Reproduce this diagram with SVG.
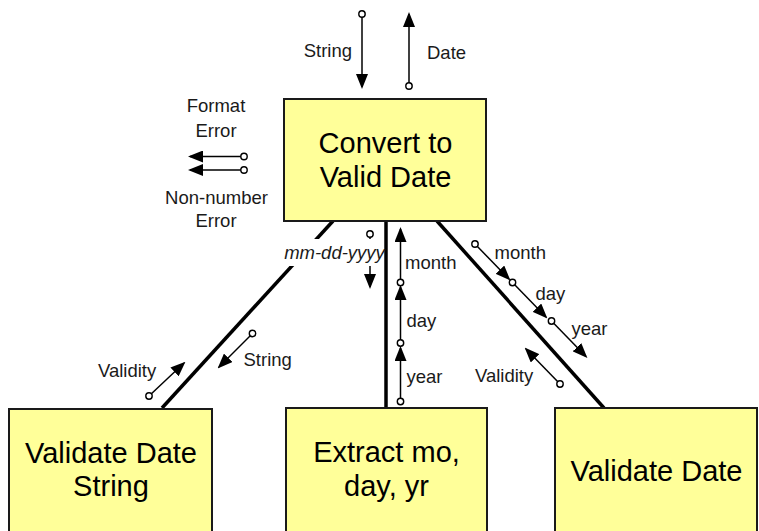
<svg xmlns="http://www.w3.org/2000/svg" width="759" height="531" viewBox="0 0 759 531">
  <defs>
    <marker id="head" viewBox="0 0 15 12" markerUnits="userSpaceOnUse" markerWidth="15" markerHeight="12" refX="13" refY="6" orient="auto">
      <path d="M0,0 L15,6 L0,12 z" fill="#000"/>
    </marker>
  </defs>
  <style>
    .box { fill: #FFFF99; stroke: #1a1a1a; stroke-width: 2; }
    .big { font-family: "Liberation Sans", Arial, sans-serif; font-size: 29px; fill: #000; text-anchor: middle; }
    .lbl { font-family: "Liberation Sans", Arial, sans-serif; font-size: 18.5px; fill: #1a1a1a; }
    .mid { text-anchor: middle; }
    .end { text-anchor: end; }
    .ital { font-style: italic; }
    .link { stroke: #000; stroke-width: 3.5; fill: none; }
    .flow { stroke: #000; stroke-width: 1.5; fill: none; marker-end: url(#head); }
    .tail { fill: #fff; stroke: #000; stroke-width: 1.4; }
  </style>
  <rect width="759" height="531" fill="#fff"/>

  <!-- thick connectors between modules -->
  <g id="connectors">
    <line class="link" x1="333" y1="221" x2="162" y2="408"/>
    <line class="link" x1="386" y1="221" x2="386" y2="408"/>
    <line class="link" x1="437" y1="221" x2="604" y2="408"/>
  </g>

  <!-- data flow couples -->
  <g id="couples">
    <!-- top: String in, Date out -->
    <line class="flow" x1="362" y1="14" x2="362" y2="87"/>
    <circle class="tail" cx="362" cy="14" r="3.2"/>
    <line class="flow" x1="409" y1="86" x2="409" y2="14"/>
    <circle class="tail" cx="409" cy="86" r="3.2"/>
    <text class="lbl end" x="352" y="57">String</text>
    <text class="lbl" x="427" y="59">Date</text>

    <!-- error flags -->
    <line class="flow" x1="244" y1="156.5" x2="190" y2="156.5"/>
    <circle class="tail" cx="244" cy="156.5" r="3.2"/>
    <line class="flow" x1="244" y1="170" x2="190" y2="170"/>
    <circle class="tail" cx="244" cy="170" r="3.2"/>
    <text class="lbl mid" x="216" y="112">Format</text>
    <text class="lbl mid" x="216" y="137">Error</text>
    <text class="lbl mid" x="216.5" y="203.5">Non-number</text>
    <text class="lbl mid" x="216" y="227">Error</text>

    <!-- mm-dd-yyyy down the middle -->
    <line class="flow" x1="370" y1="234" x2="370" y2="287"/>
    <circle class="tail" cx="370" cy="234" r="3.2"/>
    <rect x="284" y="239" width="100" height="27" fill="#fff"/>
    <text class="lbl ital" x="334.5" y="259" text-anchor="middle">mm-dd-yyyy</text>

    <!-- year, day, month up the middle -->
    <line class="flow" x1="400.5" y1="401.5" x2="400.5" y2="348"/>
    <circle class="tail" cx="400.5" cy="401.5" r="3.2"/>
    <line class="flow" x1="400.5" y1="343" x2="400.5" y2="287"/>
    <circle class="tail" cx="400.5" cy="343" r="3.2"/>
    <line class="flow" x1="400.5" y1="282.5" x2="400.5" y2="229"/>
    <circle class="tail" cx="400.5" cy="282.5" r="3.2"/>
    <text class="lbl" x="405" y="269">month</text>
    <text class="lbl" x="406.5" y="327">day</text>
    <text class="lbl" x="406.5" y="383">year</text>

    <!-- month, day, year down the right -->
    <line class="flow" x1="475" y1="244" x2="509" y2="279"/>
    <circle class="tail" cx="475" cy="244" r="3.2"/>
    <line class="flow" x1="512.5" y1="282.5" x2="546" y2="317"/>
    <circle class="tail" cx="512.5" cy="282.5" r="3.2"/>
    <line class="flow" x1="551.5" y1="321" x2="586" y2="356.5"/>
    <circle class="tail" cx="551.5" cy="321" r="3.2"/>
    <text class="lbl" x="494.5" y="259">month</text>
    <text class="lbl" x="535.5" y="300">day</text>
    <text class="lbl" x="571.5" y="335">year</text>

    <!-- validity back up the right -->
    <line class="flow" x1="560" y1="384" x2="526" y2="349"/>
    <circle class="tail" cx="560" cy="384" r="3.2"/>
    <text class="lbl" x="475" y="382">Validity</text>

    <!-- string down, validity up the left -->
    <line class="flow" x1="252.5" y1="333.5" x2="219" y2="367"/>
    <circle class="tail" cx="252.5" cy="333.5" r="3.2"/>
    <line class="flow" x1="149" y1="396" x2="184" y2="363"/>
    <circle class="tail" cx="149" cy="396" r="3.2"/>
    <text class="lbl" x="243.5" y="365.5">String</text>
    <text class="lbl" x="98" y="377">Validity</text>
  </g>

  <!-- modules -->
  <g id="convert">
    <rect class="box" x="284" y="99" width="202" height="122"/>
    <text class="big" x="385.5" y="152.5">Convert to</text>
    <text class="big" x="385.5" y="186.5">Valid Date</text>
  </g>
  <g id="validate-string">
    <rect class="box" x="9" y="409" width="203" height="130"/>
    <text class="big" x="111" y="462.5">Validate Date</text>
    <text class="big" x="111" y="495.5">String</text>
  </g>
  <g id="extract">
    <rect class="box" x="286" y="408" width="201" height="130"/>
    <text class="big" x="386.5" y="462">Extract mo,</text>
    <text class="big" x="386.5" y="496">day, yr</text>
  </g>
  <g id="validate-date">
    <rect class="box" x="555" y="408" width="202" height="130"/>
    <text class="big" x="656.5" y="481">Validate Date</text>
  </g>
</svg>
